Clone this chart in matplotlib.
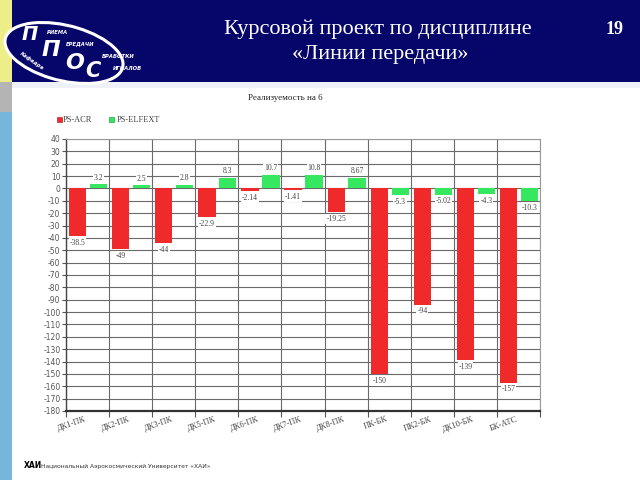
import matplotlib
matplotlib.use("Agg")
import matplotlib.pyplot as plt
import numpy as np
from matplotlib.patches import Rectangle, Ellipse

categories = ["ДК1-ПК", "ДК2-ПК", "ДК3-ПК", "ДК5-ПК", "ДК6-ПК", "ДК7-ПК",
              "ДК8-ПК", "ПК-БК", "ПК2-БК", "ДК10-БК", "БК-АТС"]
ps_acr = [-38.5, -49, -44, -22.9, -2.14, -1.41, -19.25, -150, -94, -139, -157]
ps_elfext = [3.2, 2.5, 2.8, 8.3, 10.7, 10.8, 8.67, -5.3, -5.02, -4.3, -10.3]
acr_labels = ["-38.5", "-49", "-44", "-22.9", "-2.14", "-1.41", "-19.25", "-150", "-94", "-139", "-157"]
elf_labels = ["3.2", "2.5", "2.8", "8.3", "10.7", "10.8", "8.67", "-5.3", "-5.02", "-4.3", "-10.3"]
y_ticks = list(range(-180, 41, 10))

W, H = 640, 480
fig = plt.figure(figsize=(6.4, 4.8), dpi=100)
fig.patch.set_facecolor("white")

def fx(x):
    return x / W

def fy(y):
    return 1 - y / H

navy = "#06066a"
# Slide decorations
fig.patches.append(Rectangle((fx(12), fy(82)), fx(628), 82 / H, transform=fig.transFigure,
                             facecolor=navy, edgecolor="none", zorder=0))
fig.patches.append(Rectangle((0, fy(82)), fx(12), 82 / H, transform=fig.transFigure,
                             facecolor="#eeee88", edgecolor="none", zorder=0))
fig.patches.append(Rectangle((0, fy(112)), fx(12), 30 / H, transform=fig.transFigure,
                             facecolor="#b4b4b4", edgecolor="none", zorder=0))
fig.patches.append(Rectangle((0, 0), fx(12), fy(112), transform=fig.transFigure,
                             facecolor="#74b6dc", edgecolor="none", zorder=0))
fig.patches.append(Rectangle((fx(12), fy(88)), fx(628), 6 / H, transform=fig.transFigure,
                             facecolor="#eef2f8", edgecolor="none", zorder=0))

# Logo
fig.patches.append(Ellipse((fx(64), fy(53)), 124 / W, 54 / H, angle=-22, transform=fig.transFigure,
                           facecolor=navy, edgecolor="white", lw=2.2, zorder=1))
fig.text(fx(30), fy(35), "П", color="white", fontsize=14, fontweight="bold", style="italic",
         ha="center", va="center", family="DejaVu Sans", zorder=2)
fig.text(fx(51), fy(50), "П", color="white", fontsize=16, fontweight="bold", style="italic",
         ha="center", va="center", family="DejaVu Sans", zorder=2)
fig.text(fx(75), fy(63), "О", color="white", fontsize=16, fontweight="bold", style="italic",
         ha="center", va="center", family="DejaVu Sans", zorder=2)
fig.text(fx(93), fy(71), "С", color="white", fontsize=15, fontweight="bold", style="italic",
         ha="center", va="center", family="DejaVu Sans", zorder=2)
for txt, x, y in [("РИЕМА", 58, 32), ("ЕРЕДАЧИ", 80, 44), ("БРАБОТКИ", 118, 56), ("ИГНАЛОВ", 127, 69)]:
    fig.text(fx(x), fy(y), txt, color="white", fontsize=3.8, fontweight="bold", style="italic",
             ha="center", va="center", family="DejaVu Sans", zorder=2)
fig.text(fx(32), fy(61), "Кафедра", color="white", fontsize=3.8, fontweight="bold", style="italic",
         rotation=-35, ha="center", va="center", family="DejaVu Sans", zorder=2)

fig.text(fx(378), fy(29), "Курсовой проект по дисциплине", color="white", fontsize=16,
         family="Liberation Serif", ha="center", va="center")
fig.text(fx(380), fy(54), "«Линии передачи»", color="white", fontsize=16,
         family="Liberation Serif", ha="center", va="center")
fig.text(fx(615), fy(29), "19", color="white", fontsize=13, fontweight="bold",
         family="Liberation Serif", ha="center", va="center")

# Footer
fig.text(fx(24), fy(466), "ХАИ", color="black", fontsize=5.5, fontweight="bold",
         family="DejaVu Sans", ha="left", va="center")
fig.text(fx(41), fy(466), "Национальный Аэрокосмический Университет «ХАИ»", color="#333333",
         fontsize=4.3, family="DejaVu Sans", ha="left", va="center")

# Chart title and legend
fig.text(fx(285), fy(98), "Реализуемость на 6", color="#222222", fontsize=6.5,
         family="Liberation Serif", ha="center", va="center")
red = "#f02a2a"
green = "#35e860"
fig.patches.append(Rectangle((fx(57), fy(122)), 5 / W, 5 / H, transform=fig.transFigure,
                             facecolor=red, edgecolor="#b01010", lw=0.4))
fig.text(fx(63), fy(119.5), "PS-ACR", color="#444444", fontsize=6, family="Liberation Serif",
         ha="left", va="center")
fig.patches.append(Rectangle((fx(109), fy(122)), 5 / W, 5 / H, transform=fig.transFigure,
                             facecolor=green, edgecolor="#109030", lw=0.4))
fig.text(fx(117), fy(119.5), "PS-ELFEXT", color="#444444", fontsize=6, family="Liberation Serif",
         ha="left", va="center")

# Axes
ax = fig.add_axes([fx(66), fy(411), (540 - 66) / W, (411 - 139) / H])
n = len(categories)
idx = np.arange(n)
ax.bar(idx + 0.27, ps_acr, width=0.40, color=red, zorder=3)
ax.bar(idx + 0.755, ps_elfext, width=0.40, color=green, zorder=3)

bbox = dict(facecolor="white", edgecolor="none", pad=0.6)
for i in range(n):
    v = ps_acr[i]
    ax.annotate(acr_labels[i], (i + 0.27, v), xytext=(0, -2), textcoords="offset points",
                ha="center", va="top", fontsize=5.5, color="#444444", family="Liberation Serif",
                bbox=bbox, zorder=4)
    v = ps_elfext[i]
    if v >= 0:
        ax.annotate(elf_labels[i], (i + 0.755, v), xytext=(0, 2), textcoords="offset points",
                    ha="center", va="bottom", fontsize=5.5, color="#444444", family="Liberation Serif",
                    bbox=bbox, zorder=4)
    else:
        ax.annotate(elf_labels[i], (i + 0.755, v), xytext=(0, -2), textcoords="offset points",
                    ha="center", va="top", fontsize=5.5, color="#444444", family="Liberation Serif",
                    bbox=bbox, zorder=4)

ax.set_xlim(0, n)
ax.set_ylim(-180, 40)
ax.set_yticks(y_ticks)
ax.set_yticklabels([str(t) for t in y_ticks], fontsize=5.5, color="#555555", family="DejaVu Sans")
ax.set_xticks(np.arange(n + 1))
ax.set_xticklabels([])
ax.set_xticks(idx + 0.5, minor=True)
ax.set_xticklabels(categories, minor=True, rotation=20, ha="right", fontsize=6,
                   color="#444444", family="Liberation Serif")
ax.tick_params(axis="x", which="minor", length=0, pad=3)
ax.tick_params(axis="x", which="major", length=4, color="#555555", width=0.8)
ax.tick_params(axis="y", length=3, color="#555555", width=0.8, pad=1)
ax.grid(True, which="major", color="#6a6a6a", lw=0.8, zorder=0)
ax.set_axisbelow(True)
for s in ["top", "right"]:
    ax.spines[s].set_color("#999999")
    ax.spines[s].set_linewidth(0.8)
ax.spines["left"].set_color("#444444")
ax.spines["left"].set_linewidth(1.0)
ax.spines["bottom"].set_color("#333333")
ax.spines["bottom"].set_linewidth(1.6)

fig.savefig("out.png", dpi=100)
